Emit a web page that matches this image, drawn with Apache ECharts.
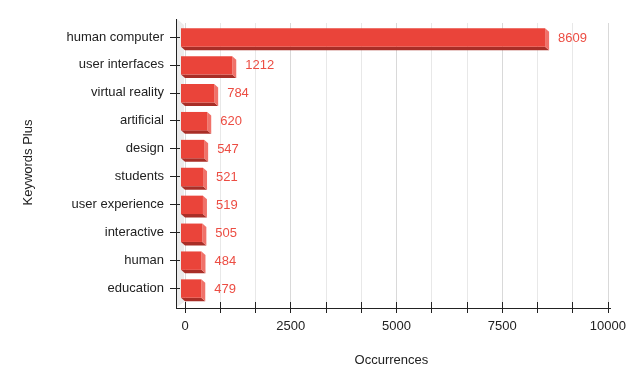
<!DOCTYPE html>
<html>
<head>
<meta charset="utf-8">
<script src="https://cdn.jsdelivr.net/npm/echarts@6/dist/echarts.min.js"></script>
<style>
html,body{margin:0;padding:0;background:#fff;}
#main{width:629px;height:389px;}
</style>
</head>
<body>
<div id="main"></div>
<script>
const keywords = ['human computer','user interfaces','virtual reality','artificial','design','students','user experience','interactive','human','education'];
const occurrences = [8609,1212,784,620,547,521,519,505,484,479];
const xTicks = [0, 2500, 5000, 7500, 10000];

const FONT = '"Liberation Sans", Arial, Helvetica, sans-serif';
const chart = echarts.init(document.getElementById('main'), null, {renderer: 'canvas'});

const DX = 4, DY = 3.5;
function renderBar(params, api) {
  const idx = api.value(1);
  const val = api.value(0);
  const p0 = api.coord([0, idx]);
  const p1 = api.coord([val, idx]);
  const yc = p1[1];
  const x0 = p0[0] - DX, x1 = p1[0] - DX;
  const top = yc - 8.7, bot = yc + 9.7;
  return {
    type: 'group',
    children: [
      {type: 'polygon', shape: {points: [[x0, bot], [x1, bot], [x1 + DX, bot + DY], [x0 + DX, bot + DY]]},
        style: {fill: '#A82E27'}},
      {type: 'polygon', shape: {points: [[x1, top], [x1 + DX, top + DY], [x1 + DX, bot + DY], [x1, bot]]},
        style: {fill: '#F0726A'}},
      {type: 'rect', shape: {x: x0, y: top, width: x1 - x0, height: bot - top},
        style: {fill: '#EA443A'}},
      {type: 'text', style: {text: String(val), x: x1 + 13, y: yc + 1, textAlign: 'left', textVerticalAlign: 'middle',
        fill: '#EC4D43', font: '13px ' + FONT}}
    ]
  };
}

chart.setOption({
  animation: false,
  backgroundColor: '#fff',
  textStyle: {fontFamily: FONT},
  grid: {left: 185, right: 18.5, top: 23, bottom: 87, containLabel: false},
  graphic: [{
    type: 'polygon', silent: true, z: 0, zlevel: 0,
    shape: {points: [[177, 19], [184, 25], [184, 302], [177, 307]]},
    style: {fill: '#ececec'}
  }, {
    type: 'line', silent: true, z: 10,
    shape: {x1: 176.5, y1: 19, x2: 176.5, y2: 309},
    style: {stroke: '#222', lineWidth: 1}
  }, {
    type: 'line', silent: true, z: 10,
    shape: {x1: 176, y1: 308.5, x2: 611, y2: 308.5},
    style: {stroke: '#222', lineWidth: 1}
  }],
  xAxis: [{
    type: 'value', min: 0, max: 10000, interval: 2500, position: 'bottom', offset: 6,
    name: 'Occurrences', nameLocation: 'middle', nameGap: 46,
    nameTextStyle: {fontSize: 13, color: '#222', fontFamily: FONT, padding: [0, 10, 0, 0]},
    axisLine: {show: false, onZero: false},
    axisTick: {show: true, length: 5, lineStyle: {color: '#222'}},
    minorTick: {show: true, splitNumber: 3, length: 5, lineStyle: {color: '#222'}},
    axisLabel: {fontSize: 13, color: '#222', margin: 12, fontFamily: FONT,
      formatter: v => xTicks.includes(v) ? String(v) : ''},
    splitLine: {show: true, lineStyle: {color: '#d9d9d9', width: 1}},
    minorSplitLine: {show: true, lineStyle: {color: '#e8e8e8', width: 1}}
  }, {
    type: 'value', min: 0, max: 10000, interval: 2500, position: 'bottom', offset: 6,
    axisLine: {show: false, onZero: false},
    axisTick: {show: true, inside: true, length: 6, lineStyle: {color: '#222'}},
    minorTick: {show: true, splitNumber: 3, length: 6, lineStyle: {color: '#222'}},
    axisLabel: {show: false},
    splitLine: {show: false}
  }],
  yAxis: [{
    type: 'category', data: keywords, inverse: true, offset: 9, position: 'left',
    name: 'Keywords Plus', nameLocation: 'middle', nameGap: 141,
    nameTextStyle: {fontSize: 13, color: '#222', fontFamily: FONT},
    axisLine: {show: false, onZero: false},
    axisTick: {show: true, alignWithLabel: true, length: 6, lineStyle: {color: '#222'}},
    axisLabel: {fontSize: 13, color: '#222', margin: 12, fontFamily: FONT},
    splitLine: {show: false}
  }, {
    type: 'category', data: keywords, inverse: true, offset: 9, position: 'left',
    axisLine: {show: false, onZero: false},
    axisTick: {show: true, inside: true, alignWithLabel: true, length: 4, lineStyle: {color: '#222'}},
    axisLabel: {show: false},
    splitLine: {show: false}
  }],
  series: [{
    type: 'custom',
    renderItem: renderBar,
    clip: false,
    z: 5,
    encode: {x: 0, y: 1},
    data: occurrences.map((v, i) => [v, i])
  }]
});
</script>
</body>
</html>
